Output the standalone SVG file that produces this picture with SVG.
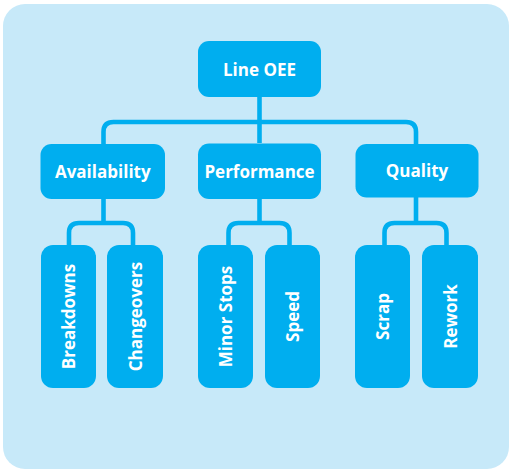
<svg xmlns="http://www.w3.org/2000/svg" width="514" height="472" viewBox="0 0 514 472">
  <style>
    .bg { fill: #c7e9f9; }
    .box { fill: #00aeef; }
    .lbl { fill: #ffffff; font-family: "Open Sans", "Noto Sans", sans-serif; font-weight: 700; font-size: 17px; text-anchor: middle; }
    .conn { fill: none; stroke: #00aeef; stroke-width: 4.6; }
  </style>
  <rect class="bg" x="3" y="4" width="506" height="465" rx="22" ry="22"/>
  <g id="connectors">
    <path class="conn" d="M259.5,97 V143"/>
    <path class="conn" d="M103.5,144 V132 Q103.5,122 113.5,122 H406 Q416,122 416,132 V144"/>
    <path class="conn" d="M103.5,199 V223"/>
    <path class="conn" d="M69,245 V233 Q69,223 79,223 H123 Q133,223 133,233 V245"/>
    <path class="conn" d="M259.5,199 V223"/>
    <path class="conn" d="M228.5,245 V233 Q228.5,223 238.5,223 H279.5 Q289.5,223 289.5,233 V245"/>
    <path class="conn" d="M416,197 V223"/>
    <path class="conn" d="M384.5,245 V233 Q384.5,223 394.5,223 H436.5 Q446.5,223 446.5,233 V245"/>
  </g>
  <g id="line-oee">
    <rect class="box" x="198" y="41" width="123" height="56" rx="11"/>
    <text class="lbl" x="259.5" y="75.5">Line OEE</text>
  </g>
  <g id="availability">
    <rect class="box" x="40.5" y="144" width="124.5" height="55" rx="11"/>
    <text class="lbl" x="102.8" y="177.5">Availability</text>
  </g>
  <g id="performance">
    <rect class="box" x="198" y="143.5" width="123" height="55.5" rx="11"/>
    <text class="lbl" x="259.5" y="177.5">Performance</text>
  </g>
  <g id="quality">
    <rect class="box" x="355.5" y="144" width="123" height="53.5" rx="11"/>
    <text class="lbl" x="417" y="177">Quality</text>
  </g>
  <g id="breakdowns">
    <rect class="box" x="41" y="245" width="55" height="143" rx="12"/>
    <text class="lbl" transform="translate(75,316.5) rotate(-90)">Breakdowns</text>
  </g>
  <g id="changeovers">
    <rect class="box" x="107" y="245" width="56" height="143" rx="12"/>
    <text class="lbl" transform="translate(141.5,316.5) rotate(-90)">Changeovers</text>
  </g>
  <g id="minor-stops">
    <rect class="box" x="198" y="245" width="55" height="143" rx="12"/>
    <text class="lbl" transform="translate(232,316.5) rotate(-90)">Minor Stops</text>
  </g>
  <g id="speed">
    <rect class="box" x="265" y="245" width="55" height="143" rx="12"/>
    <text class="lbl" transform="translate(299,316.5) rotate(-90)">Speed</text>
  </g>
  <g id="scrap">
    <rect class="box" x="355" y="245" width="55" height="143" rx="12"/>
    <text class="lbl" transform="translate(389,316.5) rotate(-90)">Scrap</text>
  </g>
  <g id="rework">
    <rect class="box" x="422" y="245" width="56" height="143" rx="12"/>
    <text class="lbl" transform="translate(456.5,316.5) rotate(-90)">Rework</text>
  </g>
</svg>
